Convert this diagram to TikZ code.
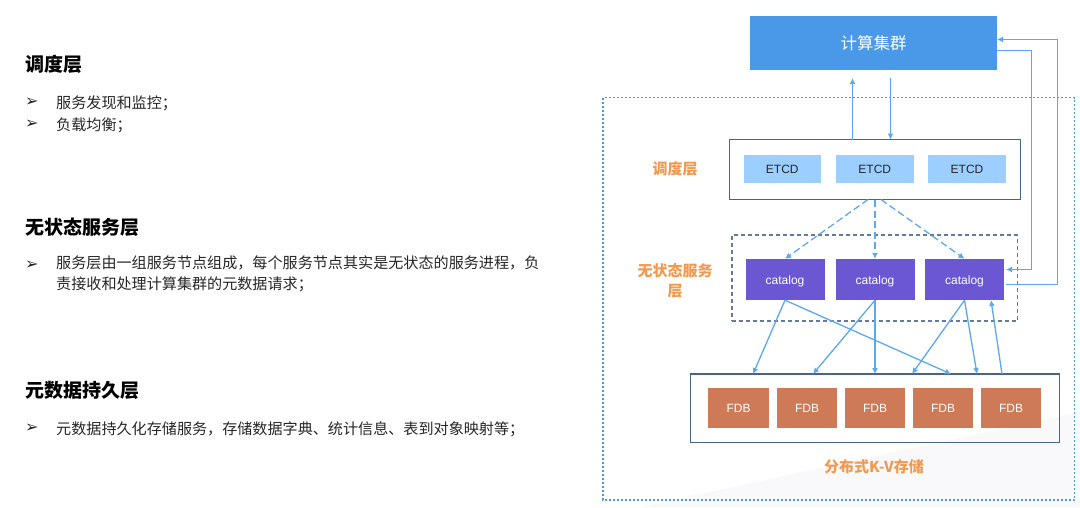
\documentclass[tikz,border=0pt]{standalone}
\usepackage{fontspec}
\setmainfont{Liberation Sans}
\newfontfamily\cjk{Noto Sans CJK SC}
\newfontfamily\dingfont{DejaVu Sans}
\usetikzlibrary{arrows.meta}
\definecolor{clusterblue}{HTML}{4A98E8}
\definecolor{etcdblue}{HTML}{9CCEFF}
\definecolor{catpurple}{HTML}{6C57D2}
\definecolor{fdbbrown}{HTML}{CE7A56}
\definecolor{linkblue}{HTML}{5CA8EE}
\definecolor{framenavy}{HTML}{46648C}
\definecolor{labelorange}{HTML}{F2994F}
\definecolor{paleground}{HTML}{F9F9FB}
\tikzset{
	x=1pt,y=-1pt,
	frame/.style={draw=framenavy,line width=1.2pt,inner sep=0pt},
	etcdbox/.style={fill=etcdblue,minimum width=77.5pt,minimum height=28pt,inner sep=0pt,font=\fontsize{12}{12}\selectfont,text=black!85},
	catbox/.style={fill=catpurple,minimum width=79pt,minimum height=41pt,inner sep=0pt,text height=9pt,text depth=0pt,font=\fontsize{12}{12}\selectfont,text=white},
	fdbbox/.style={fill=fdbbrown,minimum width=60.5pt,minimum height=40pt,inner sep=0pt,font=\fontsize{12}{12}\selectfont,text=white},
	link/.style={draw=linkblue,line width=1.3pt,-{Latex[length=6pt,width=6pt]}},
	dashlink/.style={link,dash pattern=on 7pt off 3.5pt},
	layerlabel/.style={font=\cjk\bfseries\fontsize{15}{20}\selectfont,text=labelorange,align=center},
	heading/.style={anchor=west,inner sep=0pt,font=\cjk\bfseries\fontsize{19}{19}\selectfont},
	bodytext/.style={anchor=west,inner sep=0pt,font=\cjk\fontsize{15.1}{21}\selectfont,text=black!85,align=left},
	tick/.style={anchor=west,inner sep=0pt,font=\dingfont\fontsize{16}{16}\selectfont,text=black!85}
}
\begin{document}
\begin{tikzpicture}
	\useasboundingbox (0,0) rectangle (1080,507);
	\fill[paleground] (640,507) -- (1080,412) -- (1080,507) -- cycle;
	% left column
	\node[heading] (sched) at (25,64) {调度层};
	\node[tick] (t1) at (25,102) {➢};
	\node[bodytext] (s1) at (56,103) {服务发现和监控；};
	\node[tick] (t2) at (25,124) {➢};
	\node[bodytext] (s2) at (56,125) {负载均衡；};
	
	\node[heading] (state) at (25,227) {无状态服务层};
	\node[tick] (t3) at (25,265) {➢};
	\node[bodytext,anchor=north west] (s3) at (56,256) {服务层由一组服务节点组成，每个服务节点其实是无状态的服务进程，负\\责接收和处理计算集群的元数据请求；};
	
	\node[heading] (meta) at (25,390) {元数据持久层};
	\node[tick] (t4) at (25,428) {➢};
	\node[bodytext] (s4) at (56,429) {元数据持久化存储服务，存储数据字典、统计信息、表到对象映射等；};
	
	% outer frames
	\draw[draw=clusterblue,line width=1.1pt,dash pattern=on 2.5pt off 1.5pt] (603,97.5) rectangle (1074.5,500);
	\node[frame,minimum width=291pt,minimum height=60pt] (etcdrow) at (875,169.5) {};
	\node[draw=framenavy!85,line width=1.2pt,dash pattern=on 4pt off 3pt,inner sep=0pt,minimum width=285.5pt,minimum height=86pt] (catrow) at (874.75,278) {};
	\node[frame,minimum width=369pt,minimum height=68.5pt] (fdbrow) at (875,408.25) {};
	
	% boxes
	\node[fill=clusterblue,minimum width=247pt,minimum height=54pt,inner sep=0pt,text depth=0pt,text=white,font=\cjk\fontsize{16.5}{16.5}\selectfont] (cluster) at (873.5,43) {计算集群};
	\node[etcdbox] (etcd1) at (782.25,169) {ETCD};
	\node[etcdbox] (etcd2) at (874.75,169) {ETCD};
	\node[etcdbox] (etcd3) at (967,169) {ETCD};
	\node[catbox] (cat1) at (785,279.5) {catalog};
	\node[catbox] (cat2) at (875,279.5) {catalog};
	\node[catbox] (cat3) at (964.5,279.5) {catalog};
	\node[fdbbox] (fdb1) at (738.5,408) {FDB};
	\node[fdbbox] (fdb2) at (807,408) {FDB};
	\node[fdbbox] (fdb3) at (875,408) {FDB};
	\node[fdbbox] (fdb4) at (943,408) {FDB};
	\node[fdbbox] (fdb5) at (1011,408) {FDB};
	
	% layer labels
	\node[layerlabel] (lab1) at (675,169) {调度层};
	\node[layerlabel] (lab2) at (675,281) {无状态服务\\层};
	\node[layerlabel] (lab3) at (874,467) {分布式K-V存储};
	
	% free ends
	\coordinate (upfrom) at (852.5,139.5);
	\coordinate (upto) at (852.5,78);
	\coordinate (downfrom) at (890.5,78);
	\coordinate (downto) at (890.5,139.5);
	\coordinate (outa) at (997,50.5);
	\coordinate (cornera) at (1031.5,50.5);
	\coordinate (cornerb) at (1031.5,269.5);
	\coordinate (ina) at (1006,269.5);
	\coordinate (outb) at (1006,284.5);
	\coordinate (cornerc) at (1057.5,284.5);
	\coordinate (cornerd) at (1057.5,39.5);
	\coordinate (inb) at (997,39.5);
	\coordinate (dasha) at (868,199.5);
	\coordinate (dashb) at (881,199.5);
	\coordinate (fdbina) at (753,374);
	\coordinate (fdbinb) at (813,374);
	\coordinate (fdbinc) at (875,374);
	\coordinate (fdbind) at (912,374);
	\coordinate (fdbine) at (951,374);
	\coordinate (fdbinf) at (977,374);
	\coordinate (fdbout) at (1002,374);
	\coordinate (catin) at (991,300);
	
	% connectors
	\draw[link] (upfrom) -- (upto);
	\draw[link] (downfrom) -- (downto);
	\draw[link] (outa) -- (cornera) -- (cornerb) -- (ina);
	\draw[link] (outb) -- (cornerc) -- (cornerd) -- (inb);
	\draw[dashlink] (dasha) -- (cat1.north);
	\draw[dashlink] (etcdrow.south) -- (cat2.north);
	\draw[dashlink] (dashb) -- (cat3.north);
	\draw[link] (cat1.south) -- (fdbina);
	\draw[link] (cat1.south) -- (fdbine);
	\draw[link] (cat2.south) -- (fdbinb);
	\draw[link] (cat2.south) -- (fdbinc);
	\draw[link] (cat3.south) -- (fdbind);
	\draw[link] (cat3.south) -- (fdbinf);
	\draw[link] (fdbout) -- (catin);
\end{tikzpicture}
\end{document}
